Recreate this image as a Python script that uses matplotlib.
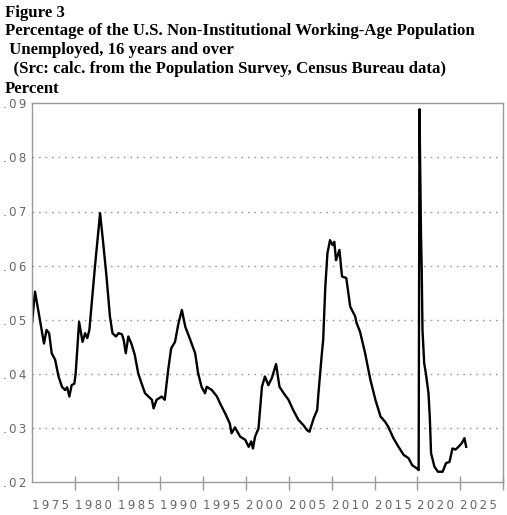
import numpy as np
import matplotlib
matplotlib.use('Agg')
import matplotlib.pyplot as plt

# values (share of population unemployed)
years = [1975.0, 1975.35, 1975.85, 1976.25, 1976.4, 1976.7, 1977.0, 1977.3, 1977.7,
         1978.1, 1978.5, 1978.85, 1979.1, 1979.36, 1979.63, 1979.95, 1980.1, 1980.5,
         1980.9, 1981.2, 1981.46, 1981.7, 1982.0, 1982.35, 1982.95, 1983.3, 1983.7,
         1984.1, 1984.4, 1984.8, 1985.1, 1985.5, 1985.7, 1985.95, 1986.25, 1986.6,
         1987.0, 1987.4, 1987.8, 1988.2, 1988.6, 1989.0, 1989.2, 1989.55, 1990.15,
         1990.5, 1990.9, 1991.25, 1991.7, 1992.1, 1992.5, 1992.9, 1993.5, 1994.05,
         1994.4, 1994.8, 1995.2, 1995.4, 1996.0, 1996.6, 1996.97, 1997.55, 1998.1,
         1998.3, 1998.7, 1999.3, 1999.9, 2000.3, 2000.6, 2000.8, 2001.05, 2001.45,
         2001.85, 2002.2, 2002.6, 2003.0, 2003.5, 2003.9, 2004.4, 2004.95, 2005.5,
         2006.1, 2006.7, 2007.1, 2007.4, 2007.9, 2008.3, 2008.45, 2008.65, 2008.85,
         2009.0, 2009.25, 2009.5, 2009.8, 2010.1, 2010.3, 2010.5, 2010.9, 2011.2,
         2011.7, 2012.16, 2012.74, 2012.9, 2013.3, 2013.9, 2014.5, 2015.1, 2015.7,
         2016.25, 2016.6, 2017.2, 2017.8, 2018.4, 2018.97, 2019.4, 2019.95, 2020.15,
         2020.25, 2020.33, 2020.42, 2020.5, 2020.6, 2020.8, 2021.0, 2021.3, 2021.45,
         2021.6, 2022.0, 2022.4, 2022.95, 2023.35, 2023.75, 2024.1, 2024.45, 2024.8,
         2025.2, 2025.5, 2025.7]
share = [.0493, .0552, .0506, .0469, .0456, .0481, .0475, .0438, .0426,
         .0395, .0376, .0370, .0375, .0358, .0379, .0382, .0401, .0496,
         .0459, .0475, .0466, .0481, .0536, .0598, .0697, .0644, .0580,
         .0506, .0475, .0469, .0475, .0473, .0463, .0438, .0469, .0456,
         .0435, .0401, .0382, .0364, .0358, .0352, .0336, .0352, .0358,
         .0352, .0407, .0447, .0459, .0493, .0518, .0487, .0462, .0438,
         .0401, .0376, .0364, .0376, .0370, .0358, .0345, .0327, .0308,
         .0290, .0301, .0284, .0278, .0265, .0275, .0262, .0284, .0299,
         .0376, .0395, .0379, .0392, .0418, .0376, .0364, .0352, .0333,
         .0315, .0305, .0296, .0293, .0318, .0333, .0364, .0401, .0438,
         .0462, .0561, .0623, .0647, .0638, .0644, .0610, .0629, .0580,
         .0577, .0524, .0506, .0494, .0478, .0438, .0390, .0352, .0321,
         .0311, .0302, .0281, .0265, .0250, .0244, .0231, .0225, .0222,
         .0889, .0780, .0660, .0600, .0480, .0419, .0400, .0364, .0320,
         .0253, .0228, .0219, .0219, .0235, .0237, .0262, .0260, .0265,
         .0272, .0281, .0265]

tick_years = [1980, 1985, 1990, 1995, 2000, 2005, 2010, 2015, 2020, 2025, 2030]
label_years = [1975, 1980, 1985, 1990, 1995, 2000, 2005, 2010, 2015, 2020, 2025]
yticks = [.02, .03, .04, .05, .06, .07, .08, .09]
ylabels = ['.02', '.03', '.04', '.05', '.06', '.07', '.08', '.09']


def spaced(s):
    # the reference axis font is letter-spaced
    return '\u2009'.join(s)


W, H = 507, 515
fig = plt.figure(figsize=(W / 100, H / 100), dpi=100)
ax = fig.add_axes([32 / W, (H - 482) / H, (503 - 32) / W, (482 - 103.3) / H])

ax.plot(years, share, color='black', lw=1.7, solid_joinstyle='round')

ax.set_xlim(1975, 2030)
ax.set_ylim(.02, .09)

for s in ax.spines.values():
    s.set_color('#999999')
    s.set_linewidth(1.0)

for v in yticks[1:-1]:
    ax.axhline(v, color='#999999', lw=1.0, ls=(0, (1.2, 3.5)), zorder=0)

ax.set_yticks(yticks)
ax.set_yticklabels([spaced(t) for t in ylabels])
ax.tick_params(axis='y', length=0, pad=4, labelsize=8.5, labelcolor='#666666')

# year labels start right after each year separator
ax.set_xticks(label_years)
ax.set_xticklabels([spaced(str(y)) for y in label_years], ha='left')
ax.tick_params(axis='x', length=0, pad=12, labelsize=8.5, labelcolor='#666666')
for lbl in ax.get_xticklabels():
    lbl.set_x(lbl.get_position()[0])

# year separators crossing the bottom axis
tr = ax.get_xaxis_transform()
ax.vlines(tick_years, -0.021, 0.016, transform=tr, colors='#999999', lw=1.0,
          clip_on=False)

title_lines = ['Figure 3',
               'Percentage of the U.S. Non-Institutional Working-Age Population',
               ' Unemployed, 16 years and over',
               '  (Src: calc. from the Population Survey, Census Bureau data)',
               'Percent']
baselines = [16.7, 35, 54, 73.3, 93.3]
for txt, b in zip(title_lines, baselines):
    fig.text(5 / W, 1 - b / H, txt, family='Liberation Serif', weight='bold',
             fontsize=12.1, va='baseline', ha='left')

fig.savefig('out.png', dpi=100)
